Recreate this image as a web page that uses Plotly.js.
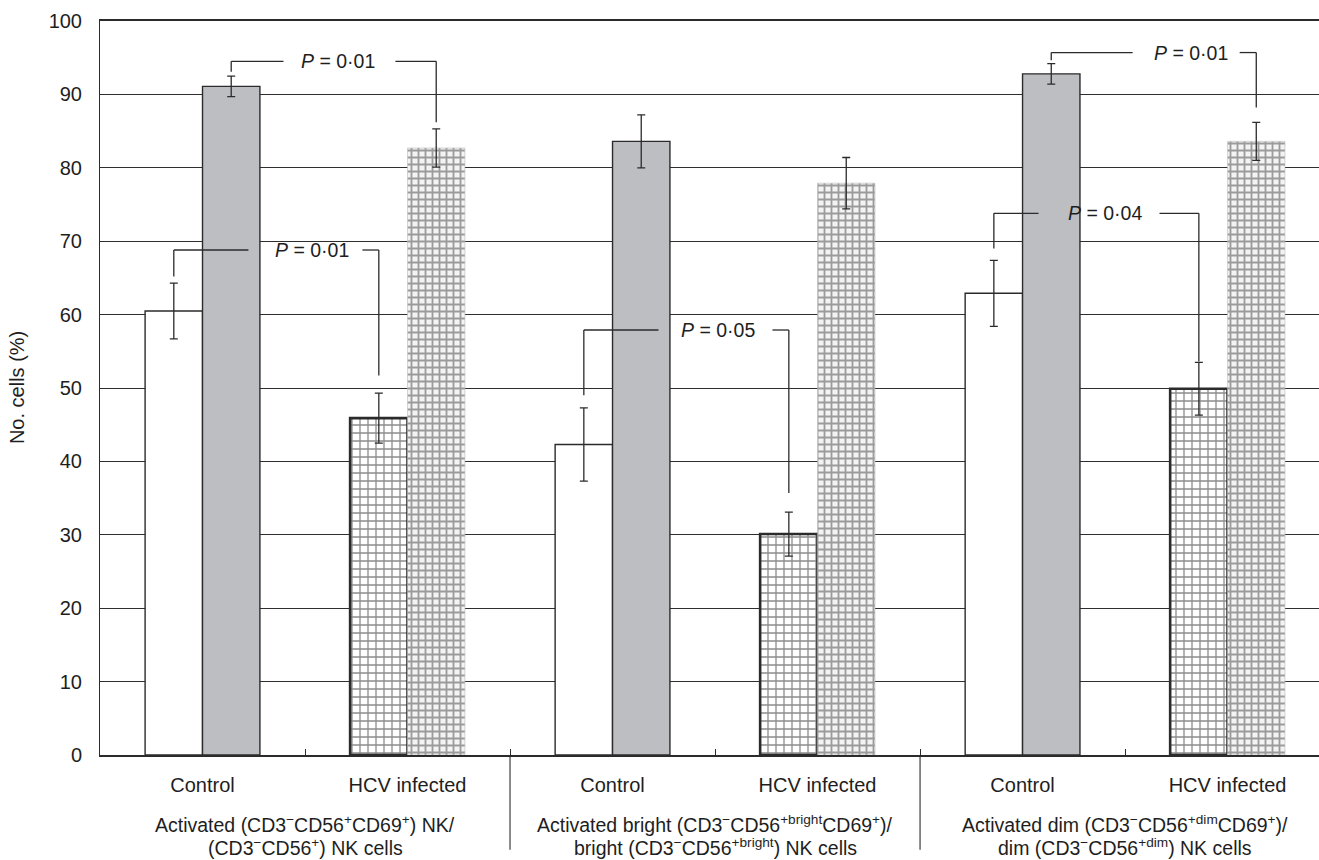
<!DOCTYPE html>
<html>
<head>
<meta charset="utf-8">
<script src="https://cdn.plot.ly/plotly-3.0.1.min.js"></script>
<style>html,body{margin:0;padding:0;background:#fff;}#chart{width:1319px;height:860px;}</style>
</head>
<body>
<div id="chart"></div>
<script>
// ---- data ----
const categories = ['Control', 'HCV infected', 'Control', 'HCV infected', 'Control', 'HCV infected'];
const groupLabelLine1 = [
  'Activated (CD3<sup>−</sup>CD56<sup>+</sup>CD69<sup>+</sup>) NK/',
  'Activated bright (CD3<sup>−</sup>CD56<sup>+bright</sup>CD69<sup>+</sup>)/',
  'Activated dim (CD3<sup>−</sup>CD56<sup>+dim</sup>CD69<sup>+</sup>)/'
];
const groupLabelLine2 = [
  '(CD3<sup>−</sup>CD56<sup>+</sup>) NK cells',
  'bright (CD3<sup>−</sup>CD56<sup>+bright</sup>) NK cells',
  'dim (CD3<sup>−</sup>CD56<sup>+dim</sup>) NK cells'
];
const activatedValues = [60.5, 45.9, 42.3, 30.1, 62.9, 49.9];
const activatedErrors = [3.8, 3.4, 5.0, 3.0, 4.5, 3.6];
const totalValues = [91.1, 82.7, 83.6, 77.9, 92.8, 83.6];
const totalErrors = [1.4, 2.6, 3.6, 3.5, 1.4, 2.6];
const yTickValues = [0, 10, 20, 30, 40, 50, 60, 70, 80, 90, 100];
const pLabels = ['0·01', '0·01', '0·05', '0·01', '0·04'];
// bracket: [category, side(0=first bar,1=second bar)]
const bracketFrom = [[0, 1], [0, 0], [2, 0], [4, 1], [4, 0]];
const bracketTo = [[1, 1], [1, 0], [3, 0], [5, 1], [5, 0]];
const bracketLevel = [94.5, 68.8, 57.9, 95.7, 73.8];
const bracketFromEnd = [93.1, 65.2, 49.0, 94.65, 69.0];
const bracketToEnd = [86.2, 51.7, 35.7, 88.2, 53.6];

// ---- layout config ----
const FONT = 'Liberation Sans, Arial, Helvetica, sans-serif';
const INK = '#2b2b2b';
const TXT = '#1e1e1e';
const bargap = 0.44;
const half = (1 - bargap) / 4; // offset of each bar centre from category centre
// text placement of P labels relative to bracket (x of text centre, gap ends) in axis units
const labelX = [0.659, 0.532, 2.512, 4.82, 4.40];
const gapLeft = [0.395, 0.224, 2.224, 4.537, 4.078];
const gapRight = [0.941, 0.780, 2.780, 5.059, 4.668];

const xs = categories.map((_, i) => i);
const isHCV = categories.map(c => c !== 'Control');

const traceA = {
  type: 'bar', x: xs, y: activatedValues,
  error_y: {type: 'data', array: activatedErrors, visible: true, color: INK, thickness: 1.3, width: 4},
  marker: {
    color: '#ffffff',
    line: {color: INK, width: isHCV.map(h => h ? 2.6 : 1.4)},
    pattern: {
      shape: isHCV.map(h => h ? '+' : ''),
      fgcolor: '#1a1a1a', bgcolor: '#ffffff', size: 8, solidity: 0.3, fillmode: 'overlay'
    }
  },
  hoverinfo: 'skip', showlegend: false
};
const traceB = {
  type: 'bar', x: xs, y: totalValues,
  error_y: {type: 'data', array: totalErrors, visible: true, color: INK, thickness: 1.3, width: 4},
  marker: {
    color: isHCV.map(h => h ? '#f3f3f3' : '#bdbec2'),
    line: {color: isHCV.map(h => h ? '#bbbbbb' : INK), width: isHCV.map(h => h ? 0.6 : 1.4)},
    pattern: {
      shape: isHCV.map(h => h ? '+' : ''),
      fgcolor: '#a6a6a6', bgcolor: '#f5f5f5', size: 7, solidity: 0.45, fillmode: 'overlay'
    }
  },
  hoverinfo: 'skip', showlegend: false
};

const shapes = [];
const annotations = [];
const barX = (p) => p[0] + (p[1] === 0 ? -half : half);
const lineStyle = {color: INK, width: 1.3};
for (let k = 0; k < pLabels.length; k++) {
  const x1 = barX(bracketFrom[k]);
  const x2 = barX(bracketTo[k]);
  const lv = bracketLevel[k];
  shapes.push({type: 'line', xref: 'x', yref: 'y', x0: x1, x1: x1, y0: bracketFromEnd[k], y1: lv, line: lineStyle});
  shapes.push({type: 'line', xref: 'x', yref: 'y', x0: x1, x1: gapLeft[k], y0: lv, y1: lv, line: lineStyle});
  shapes.push({type: 'line', xref: 'x', yref: 'y', x0: gapRight[k], x1: x2, y0: lv, y1: lv, line: lineStyle});
  shapes.push({type: 'line', xref: 'x', yref: 'y', x0: x2, x1: x2, y0: lv, y1: bracketToEnd[k], line: lineStyle});
  annotations.push({
    xref: 'x', yref: 'y', x: labelX[k], y: lv, xanchor: 'center', yanchor: 'middle',
    text: '<i>P</i> = ' + pLabels[k], showarrow: false,
    font: {family: FONT, size: 19.5, color: TXT}
  });
}
// group separators below axis
[1.5, 3.5].forEach(v => shapes.push({
  type: 'line', xref: 'x', yref: 'paper', x0: v, x1: v, y0: 0, y1: -0.129,
  line: {color: INK, width: 1.1}
}));
// group labels (two lines, tight spacing as in the original)
groupLabelLine1.forEach((t, g) => annotations.push({
  xref: 'x', yref: 'paper', x: 2 * g + 0.5, y: -0.0945, xanchor: 'center', yanchor: 'middle',
  text: t, showarrow: false, borderpad: 0, font: {family: FONT, size: 19.5, color: TXT}
}));
groupLabelLine2.forEach((t, g) => annotations.push({
  xref: 'x', yref: 'paper', x: 2 * g + 0.5, y: -0.1428, xanchor: 'center', yanchor: 'bottom',
  text: t, showarrow: false, borderpad: 0, font: {family: FONT, size: 19.5, color: TXT}
}));
// y axis title
annotations.push({
  xref: 'paper', yref: 'paper', x: -0.068, y: 0.5, xanchor: 'center', yanchor: 'middle',
  text: 'No. cells (%)', textangle: -90, showarrow: false,
  font: {family: FONT, size: 20, color: TXT}
});

const layout = {
  width: 1319, height: 860,
  margin: {l: 100, r: 0, t: 21, b: 105, pad: 0},
  paper_bgcolor: '#ffffff', plot_bgcolor: '#ffffff',
  barmode: 'group', bargap: bargap, bargroupgap: 0,
  font: {family: FONT, size: 20, color: TXT},
  xaxis: {
    range: [-0.5, 5.446], tickmode: 'array', tickvals: xs, ticktext: categories,
    ticks: '', showgrid: false, zeroline: false,
    showline: true, linecolor: INK, linewidth: 2, mirror: true,
    tickfont: {family: FONT, size: 20, color: TXT},
    ticklabelstandoff: 11,
    minor: {tickmode: 'array', tickvals: [0.5, 1.5, 2.5, 3.5, 4.5], ticks: 'inside', ticklen: 6,
      tickcolor: INK, tickwidth: 1, showgrid: false}
  },
  yaxis: {
    range: [0, 100], tickmode: 'array', tickvals: yTickValues, ticks: '',
    showgrid: true, gridcolor: '#2e2e2e', gridwidth: 1, zeroline: false,
    showline: true, linecolor: INK, linewidth: 1,
    tickfont: {family: FONT, size: 20, color: TXT},
    ticklabelstandoff: 13
  },
  shapes: shapes,
  annotations: annotations
};

Plotly.newPlot('chart', [traceA, traceB], layout, {displayModeBar: false});
</script>
</body>
</html>
